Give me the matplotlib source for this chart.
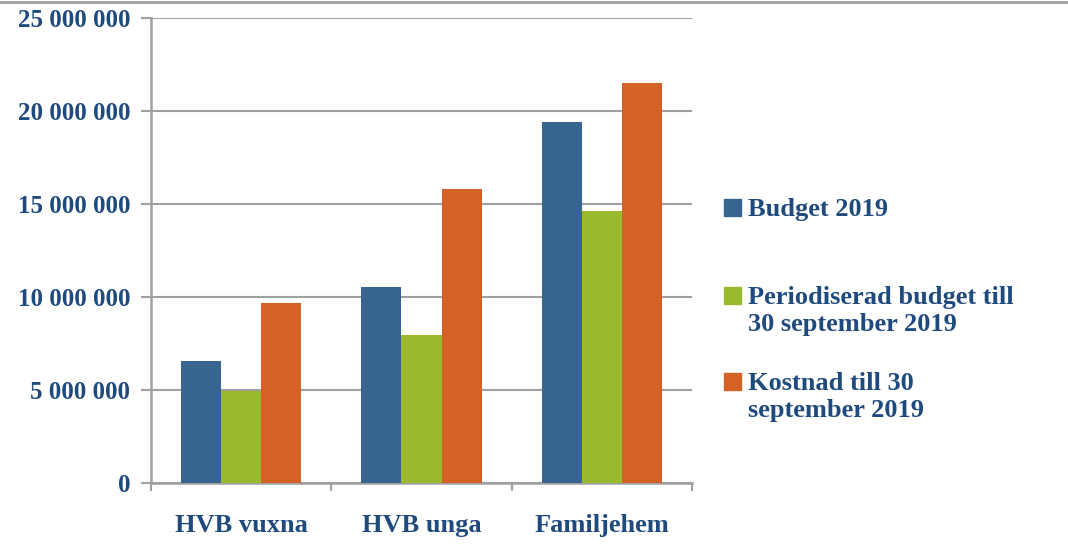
import numpy as np
import matplotlib.pyplot as plt
from matplotlib.lines import Line2D
from matplotlib.patches import Rectangle

categories = ['HVB vuxna', 'HVB unga', 'Familjehem']
series_names = ['Budget 2019',
                'Periodiserad budget till\n30 september 2019',
                'Kostnad till 30\nseptember 2019']
budget = [6550000, 10550000, 19400000]
periodiserad = [4950000, 7950000, 14600000]
kostnad = [9680000, 15780000, 21500000]
colors = ['#386490', '#9aba2d', '#d46125']

text_color = '#1f4a7d'
grid_color = '#a0a0a0'
font = {'family': 'Liberation Serif', 'weight': 'bold'}

fig = plt.figure(figsize=(10.68, 5.5), dpi=100)
ax = fig.add_axes([151 / 1068, 1 - 483 / 550, 541 / 1068, 465 / 550])

x = np.arange(len(categories))
width = 0.222
for i, vals in enumerate([budget, periodiserad, kostnad]):
    ax.bar(x + (i - 1) * width, vals, width, color=colors[i], zorder=3)

ax.set_xlim(-0.5, len(categories) - 0.5)
ax.set_ylim(0, 25000000)
yticks = np.arange(0, 25000001, 5000000)
ax.set_yticks(yticks)
ax.set_yticklabels(['{:,}'.format(v).replace(',', ' ') for v in yticks],
                   color=text_color, size=18, **font)
ax.yaxis.grid(True, color=grid_color, linewidth=1.5, zorder=0)

ax.set_xticks(x)
ax.set_xticklabels(categories, color=text_color, size=19, **font)
ax.set_xticks(np.arange(-0.5, len(categories)), minor=True)
ax.tick_params(axis='x', which='major', length=0, pad=22)
ax.tick_params(axis='x', which='minor', length=6, width=1.5, color=grid_color)
ax.tick_params(axis='y', length=7, width=1.5, color=grid_color, pad=8)

for s in ['top', 'right']:
    ax.spines[s].set_visible(False)
for s in ['left', 'bottom']:
    ax.spines[s].set_color(grid_color)
    ax.spines[s].set_linewidth(1.8)

# line along the top of the slide
fig.add_artist(Line2D([0, 1], [1 - 2 / 550, 1 - 2 / 550],
                      color=grid_color, linewidth=2))

# legend
legend_y = [208, 296, 382]
for name, c, ly in zip(series_names, colors, legend_y):
    fig.add_artist(Rectangle((724 / 1068, 1 - (ly + 8) / 550), 17 / 1068, 17 / 550,
                             color=c, transform=fig.transFigure))
    fig.text(748 / 1068, 1 - (ly - 10) / 550, name, color=text_color,
             va='top', ha='left', linespacing=1.25, size=19, **font)

fig.savefig('out.png', dpi=100)
